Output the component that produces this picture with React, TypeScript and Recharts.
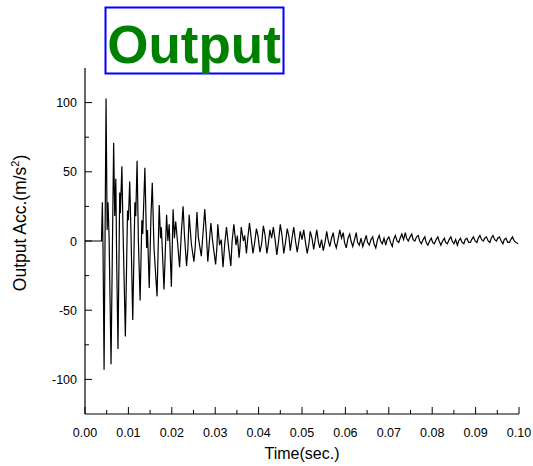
import React from 'react';
import { LineChart, Line, XAxis, YAxis } from 'recharts';

// time in ms, acceleration in m/s^2
const earlyTime = [
  0, 3.8, 4.0, 4.15, 4.4, 4.85, 5.1, 5.3, 5.55, 6.0, 6.6, 6.85, 7.1, 7.3, 7.6, 8.0, 8.15, 8.5, 8.75, 9.3,
  9.8, 10.0, 10.3, 10.6, 11.0, 11.5, 11.7, 12.0, 12.3, 12.7, 13.1, 13.3, 13.8, 14.2, 14.4, 14.8, 15.2, 15.5, 15.9, 16.6,
  17.1, 17.4, 17.6, 18.2, 18.8, 19.1, 19.4, 19.9, 20.3, 20.6, 20.9, 21.3, 21.8, 22.2, 22.6, 22.9, 23.4, 23.7, 24.0, 24.5,
  25.1, 25.4, 25.8, 26.1, 26.8, 27.2, 27.6, 27.9, 28.3, 28.6, 29.0, 29.4, 30.1, 30.4, 30.6, 31.0, 31.4, 31.8, 32.2, 32.6,
  33.0, 33.6, 33.9, 34.3, 34.8, 35.1, 35.5, 35.7, 36.0, 36.5, 36.8, 37.2, 37.5, 37.9, 38.3, 38.7, 39.1,
];
const earlyAccel = [
  0, 0, 28, -5, -93, 103, 8, 28, 3, -89, 71, 18, 45, -15, -78, 35, 20, 54, 10, -69,
  22, 15, 43, 5, -57, 28, 18, 58, 0, -43, 15, 5, 53, -5, 8, -34, 18, 42, -5, -40,
  26, 2, 10, -35, 19, 0, 12, -33, 23, 2, 14, 0, -19, 6, 25, 5, -18, -6, 19, -2,
  -15, -4, 21, 3, -11, 6, 23, 8, -15, -3, 13, 0, -17, -4, 12, -3, 1, -19, -2, 10,
  -2, -18, 0, 12, -3, 4, -12, -5, 10, 0, 4, -9, 2, 13, 2, -9, -1,
];
const tailTime = [
  39.5, 39.9, 40.3, 40.7, 41.1, 41.5, 41.9, 42.2, 42.6, 43.0, 43.4, 43.8, 44.2, 44.6, 45.0, 45.4, 45.8, 46.2, 46.6, 47.0,
  47.3, 47.7, 48.1, 48.5, 48.9, 49.2, 49.6, 50.0, 50.4, 50.8, 51.2, 51.6, 51.9, 52.3, 52.7, 53.0, 53.4, 53.8, 54.1, 54.5,
  54.9, 55.3, 55.7, 56.0, 56.4, 56.8, 57.2, 57.5, 57.9, 58.3, 58.7, 59.1, 59.5, 59.8, 60.2, 60.6, 61.0, 61.3, 61.7, 62.1,
  62.5, 62.8, 63.2, 63.6, 64.0, 64.4, 64.8, 65.1, 65.5, 65.9, 66.3, 66.6, 67.0, 67.4, 67.8, 68.1, 68.5, 68.9, 69.3, 69.6,
  70.0, 70.4, 70.8, 71.1, 71.5, 71.9, 72.3, 72.6, 73.0, 73.4, 73.8, 74.1, 74.5, 74.9, 75.3, 75.6, 76.0, 76.4, 76.8, 77.1,
  77.5, 77.9, 78.3, 78.6, 79.0, 79.4, 79.8, 80.1, 80.5, 80.9, 81.3, 81.6, 82.0, 82.4, 82.8, 83.1, 83.5, 83.9, 84.3, 84.6,
  85.0, 85.4, 85.8, 86.1, 86.5, 86.9, 87.3, 87.6, 88.0, 88.4, 88.8, 89.1, 89.5, 89.9, 90.3, 90.6, 91.0, 91.4, 91.8, 92.1,
  92.5, 92.9, 93.3, 93.6, 94.0, 94.4, 94.8, 95.1, 95.5, 95.9, 96.3, 96.6, 97.0, 97.4, 97.8, 98.1, 98.5, 98.9, 99.3, 99.8,
];
const tailAccel = [
  9, 3, -8, -2, 11, 4, -9, -3, 8, 2, 10, 1, -10, 0, 12, 4, -9, -1, 9, 3,
  -7, 2, 10, 0, -8, -2, 7, 1, 8, -1, -9, -2, 7, 2, -6, 0, 8, -1, -5, 1,
  -7, -1, 7, 1, -4, 2, 6, -1, -5, 1, 8, 2, 6, -1, -5, 2, 5, 0, -4, 1,
  6, -1, -3, 2, -4, 0, 4, -1, -3, 1, 3, -2, -5, 1, 4, 0, -2, 2, -3, 1,
  3, -1, -4, 1, 4, 0, -1, 2, 5, 1, 6, 2, 0, 3, 5, 1, 0, 3, 4, 0,
  -2, 1, 3, -1, -3, 0, 2, -1, -2, 1, 3, 0, -3, 0, 2, -1, -2, 1, 3, 0,
  -2, 1, -3, 0, 2, -1, -2, 1, 2, -1, -1, 1, 3, 0, -1, 2, 4, 1, 0, 2,
  3, 0, -1, 2, 4, 1, 0, 2, 3, 0, -2, 1, 2, -1, -1, 1, 3, 0, -1, -2,
];

const xTicks = [0, 0.005, 0.01, 0.015, 0.02, 0.025, 0.03, 0.035, 0.04, 0.045, 0.05, 0.055, 0.06, 0.065, 0.07, 0.075, 0.08, 0.085, 0.09, 0.095, 0.1];
const xMajor = [0, 0.01, 0.02, 0.03, 0.04, 0.05, 0.06, 0.07, 0.08, 0.09, 0.1];
const yTicks = [-100, -75, -50, -25, 0, 25, 50, 75, 100];
const yMajor = [-100, -50, 0, 50, 100];

const data = [
  ...earlyTime.map((t, i) => ({ t: t / 1000, v: earlyAccel[i] })),
  ...tailTime.map((t, i) => ({ t: t / 1000, v: tailAccel[i] })),
];

const FONT = '"Liberation Sans", Arial, sans-serif';
const PLOT_LEFT = 85;
const PLOT_BOTTOM = 414;

const YTick = (props: any) => {
  const { y, payload } = props;
  const major = yMajor.includes(payload.value);
  return (
    <g>
      <line x1={PLOT_LEFT} x2={PLOT_LEFT + (major ? 7 : 4)} y1={y} y2={y} stroke="#000" strokeWidth={1} />
      {major && (
        <text x={PLOT_LEFT - 8} y={y} dy="0.36em" textAnchor="end" fontSize={12.5} fontFamily={FONT} fill="#000">
          {payload.value}
        </text>
      )}
    </g>
  );
};

const XTick = (props: any) => {
  const { x, payload } = props;
  const major = xMajor.some((m) => Math.abs(m - payload.value) < 1e-9);
  return (
    <g>
      <line x1={x} x2={x} y1={PLOT_BOTTOM} y2={PLOT_BOTTOM - (major ? 7 : 4)} stroke="#000" strokeWidth={1} />
      {major && (
        <text x={x} y={PLOT_BOTTOM + 23} textAnchor="middle" fontSize={12.5} fontFamily={FONT} fill="#000">
          {payload.value.toFixed(2)}
        </text>
      )}
    </g>
  );
};

const YLabel = (props: any) => {
  const vb = props.viewBox || { y: 68, height: 346 };
  const cy = vb.y + vb.height / 2 - 18;
  return (
    <text transform={`translate(26, ${cy}) rotate(-90)`} textAnchor="middle" fontSize={17.5} fontFamily={FONT} fill="#000">
      Output Acc.(m/s
      <tspan dy={-7} fontSize={11}>2</tspan>
      <tspan dy={7}>)</tspan>
    </text>
  );
};

export default function App() {
  return (
    <div style={{ position: 'absolute', left: 0, top: 0, width: 533, height: 466, background: '#fff' }}>
      <LineChart width={533} height={466} data={data} margin={{ top: 68, right: 14, bottom: 12, left: 25 }}>
        <XAxis
          dataKey="t"
          type="number"
          domain={[0, 0.1]}
          ticks={xTicks}
          interval={0}
          tick={<XTick />}
          tickLine={false}
          height={40}
          axisLine={{ stroke: '#000', strokeWidth: 1.2 }}
          label={{ value: 'Time(sec.)', position: 'insideBottom', offset: -5, fontSize: 16, fontFamily: FONT, fill: '#000' }}
        />
        <YAxis
          type="number"
          domain={[-125, 125]}
          ticks={yTicks}
          interval={0}
          tick={<YTick />}
          tickLine={false}
          width={60}
          axisLine={{ stroke: '#000', strokeWidth: 1.2 }}
          label={<YLabel />}
        />
        <Line
          type="linear"
          dataKey="v"
          stroke="#000"
          strokeWidth={1.2}
          dot={false}
          isAnimationActive={false}
        />
      </LineChart>
      <svg width={533} height={80} style={{ position: 'absolute', left: 0, top: 0 }}>
        <rect x={105.5} y={7.5} width={178} height={66} fill="none" stroke="#0000ff" strokeWidth={2} />
        <text x={194} y={63} textAnchor="middle" fontSize={53} fontWeight="bold" fontFamily={FONT} fill="#008000">
          Output
        </text>
      </svg>
    </div>
  );
}
